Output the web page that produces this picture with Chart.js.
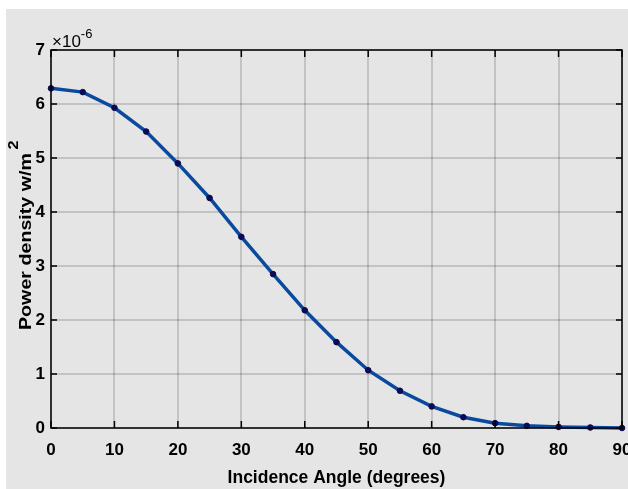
<!DOCTYPE html>
<html>
<head>
<meta charset="utf-8">
<script src="https://cdn.jsdelivr.net/npm/chart.js@4/dist/chart.umd.min.js"></script>
<style>
  html, body { margin: 0; padding: 0; background: #fff; }
  #wrap { width: 628px; height: 489px; }
</style>
</head>
<body>
<div id="wrap"><canvas id="myChart" width="628" height="489"></canvas></div>
<script>
// incidence angle in degrees
const angles = [0, 5, 10, 15, 20, 25, 30, 35, 40, 45, 50, 55, 60, 65, 70, 75, 80, 85, 90];
// power density, in units of 1e-6 W/m^2
const powerDensity = [6.29, 6.22, 5.93, 5.49, 4.90, 4.26, 3.54, 2.85, 2.18, 1.59, 1.07, 0.69, 0.40, 0.20, 0.09, 0.04, 0.02, 0.01, 0.00];
const xTicks = [0, 10, 20, 30, 40, 50, 60, 70, 80, 90];
const yTicks = [0, 1, 2, 3, 4, 5, 6, 7];

const FONT = "'Liberation Sans', Arial, Helvetica, sans-serif";
Chart.defaults.font.family = FONT;
Chart.defaults.color = '#000';

const points = angles.map((a, i) => ({ x: a, y: powerDensity[i] }));

// gray figure background (white strip top and left like the export)
const bgPlugin = {
  id: 'bg',
  beforeDraw(chart) {
    const c = chart.ctx;
    c.save();
    c.fillStyle = '#ffffff';
    c.fillRect(0, 0, chart.width, chart.height);
    c.fillStyle = '#e5e5e5';
    c.fillRect(6, 9, chart.width - 6, chart.height - 9);
    c.restore();
  }
};

// matlab style box with inward ticks, exponent label and y label
const boxPlugin = {
  id: 'box',
  afterDatasetsDraw(chart) {
    const c = chart.ctx;
    const a = chart.chartArea;
    const xs = chart.scales.x, ys = chart.scales.y;
    c.save();
    c.strokeStyle = '#000';
    c.lineWidth = 1.5;
    c.strokeRect(a.left, a.top, a.right - a.left, a.bottom - a.top);
    c.beginPath();
    for (const t of xTicks) {
      const px = xs.getPixelForValue(t);
      c.moveTo(px, a.bottom); c.lineTo(px, a.bottom - 7);
      c.moveTo(px, a.top); c.lineTo(px, a.top + 7);
    }
    for (const t of yTicks) {
      const py = ys.getPixelForValue(t);
      c.moveTo(a.left, py); c.lineTo(a.left + 6, py);
      c.moveTo(a.right, py); c.lineTo(a.right - 6, py);
    }
    c.stroke();
    c.restore();
  },
  afterDraw(chart) {
    const c = chart.ctx;
    const a = chart.chartArea;
    c.save();
    c.fillStyle = '#000';
    c.textBaseline = 'alphabetic';
    c.textAlign = 'left';
    c.font = '17px ' + FONT;
    c.fillText('\u00d710', a.left + 1, a.top - 3);
    const w = c.measureText('\u00d710').width;
    c.font = '13px ' + FONT;
    c.fillText('-6', a.left + 1 + w, a.top - 12);

    // y title, rotated, with superscript
    const label = 'Power density w/m';
    c.font = 'bold 17px ' + FONT;
    const lw = c.measureText(label).width;
    const stretch = 177 / lw;
    c.translate(31, 330);
    c.rotate(-Math.PI / 2);
    c.scale(stretch, 1);
    c.fillText(label, 0, 0);
    c.font = 'bold 14px ' + FONT;
    c.fillText('2', lw + 3, -13);
    c.restore();
  }
};

new Chart(document.getElementById('myChart'), {
  type: 'line',
  data: {
    datasets: [{
      data: points,
      borderColor: '#0a4a9e',
      borderWidth: 3.5,
      pointBackgroundColor: '#0a0a55',
      pointBorderColor: '#0a0a55',
      pointRadius: 2.8,
      pointBorderWidth: 1,
      tension: 0,
      clip: false
    }]
  },
  options: {
    responsive: false,
    animation: false,
    layout: { padding: { left: 0, top: 50, right: 6, bottom: 0 } },
    plugins: {
      legend: { display: false },
      tooltip: { enabled: false }
    },
    scales: {
      x: {
        type: 'linear',
        min: 0,
        max: 90,
        afterBuildTicks(scale) { scale.ticks = xTicks.map(v => ({ value: v })); },
        afterFit(scale) { scale.height = 61; scale.paddingLeft = 0; scale.paddingRight = 0; },
        ticks: { font: { size: 17, weight: 'bold' }, padding: 12, maxRotation: 0 },
        grid: { color: 'rgba(0,0,0,0.15)', lineWidth: 2, drawTicks: false },
        border: { display: false },
        title: {
          display: true,
          text: 'Incidence Angle (degrees)',
          font: { size: 17.5, weight: 'bold' },
          padding: { top: 0, bottom: 0 }
        }
      },
      y: {
        type: 'linear',
        min: 0,
        max: 7,
        afterBuildTicks(scale) { scale.ticks = yTicks.map(v => ({ value: v })); },
        afterFit(scale) { scale.width = 51; scale.paddingTop = 0; scale.paddingBottom = 0; },
        ticks: { font: { size: 17, weight: 'bold' }, padding: 6 },
        grid: { color: 'rgba(0,0,0,0.15)', lineWidth: 2, drawTicks: false },
        border: { display: false }
      }
    }
  },
  plugins: [bgPlugin, boxPlugin]
});
</script>
</body>
</html>
